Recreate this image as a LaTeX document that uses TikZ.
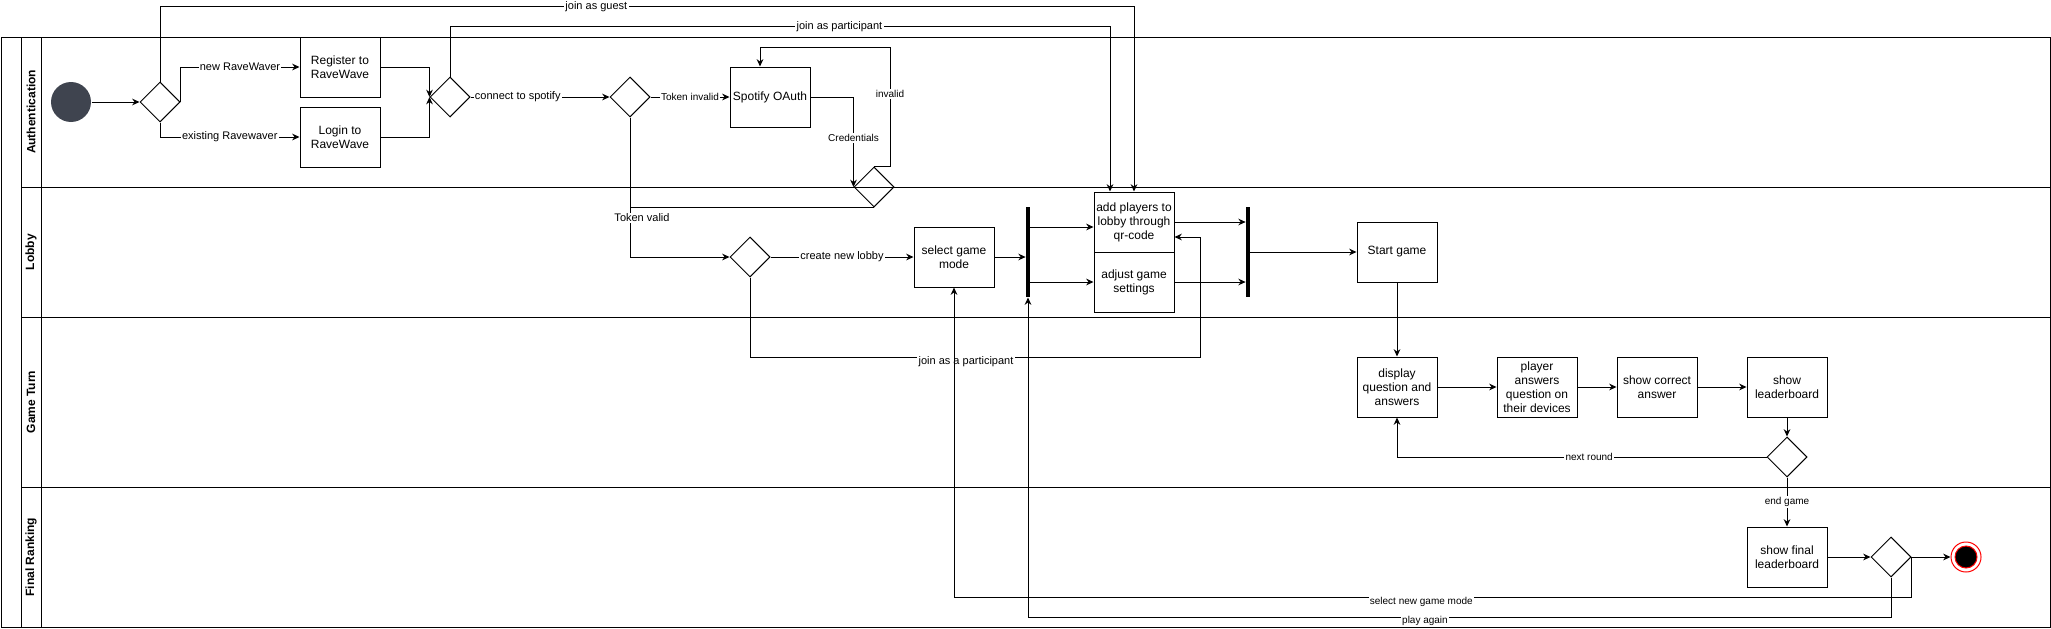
\documentclass[tikz,border=0pt]{standalone}
\usepackage{xcolor}
\usepackage{tikz}
\usepackage{fontspec}
\setmainfont{Liberation Sans}
\usetikzlibrary{shapes.geometric,arrows.meta}
\definecolor{startgray}{HTML}{3F444F}

\begin{document}
\begin{tikzpicture}[x=0.75pt, y=-0.75pt, line width=0.75pt,
    act/.style = {draw, minimum width=60pt, minimum height=45pt, inner sep=1pt,
        align=center, font=\fontsize{9}{10.5}\selectfont},
    decision/.style = {diamond, draw, minimum width=30pt, minimum height=30pt, inner sep=0pt},
    bar/.style = {fill=black, minimum width=2.8pt, minimum height=67.5pt, inner sep=0pt},
    flow/.style = {-{Stealth[length=5.5pt, width=5pt]}},
    lbl/.style = {fill=white, inner sep=1pt, font=\fontsize{8.25}{9}\selectfont},
    lblsm/.style = {fill=white, inner sep=1pt, font=\fontsize{7.5}{8.5}\selectfont},
    lanename/.style = {rotate=90, font=\bfseries\fontsize{9}{10}\selectfont}]
    \useasboundingbox (0,0) rectangle (2051,628);

    \draw (1,37) rectangle (2050,627);
    \draw (21,37) -- (21,627);
    \draw (41,37) -- (41,627);
    \draw (21,187) -- (2050,187);
    \draw (21,317) -- (2050,317);
    \draw (21,487) -- (2050,487);
    \node[lanename] (authlane) at (31,112) {Authentication};
    \node[lanename] (lobbylane) at (31,252) {Lobby};
    \node[lanename] (turnlane) at (31,402) {Game Turn};
    \node[lanename] (ranklane) at (31,557) {Final Ranking};

    \node[circle, fill=startgray, minimum size=30pt, inner sep=0pt] (start) at (71,102) {};
    \node[decision] (choice) at (160,102) {};
    \node[act] (register) at (340,67) {Register to\\RaveWave};
    \node[act] (login) at (340,137) {Login to\\RaveWave};
    \node[decision] (connect) at (450,97) {};
    \node[decision] (token) at (630,97) {};
    \node[act] (oauth) at (770,97) {Spotify OAuth};
    \node[decision] (credcheck) at (874,187) {};
    \node[decision] (lobbychoice) at (750,257) {};
    \node[act] (mode) at (954,257) {select game\\mode};
    \node[bar] (forka) at (1028,252) {};
    \node[act] (addplayers) at (1134,222) {add players to\\lobby through\\qr-code};
    \node[act] (settings) at (1134,282) {adjust game\\settings};
    \node[bar] (joinb) at (1248,252) {};
    \node[act] (startgame) at (1397,252) {Start game};
    \node[act] (display) at (1397,387) {display\\question and\\answers};
    \node[act] (answers) at (1537,387) {player\\answers\\question on\\their devices};
    \node[act] (correct) at (1657,387) {show correct\\answer};
    \node[act] (leaderboard) at (1787,387) {show\\leaderboard};
    \node[decision] (roundchoice) at (1787,457) {};
    \node[act] (finalboard) at (1787,557) {show final\\leaderboard};
    \node[decision] (againchoice) at (1891,557) {};
    \node[circle, draw=red, fill=white, minimum size=22.5pt, inner sep=0pt] (stop) at (1966,557) {};
    \draw[red, fill=black] (stop.center) circle (8.25pt);

    \draw[flow] (start) -- (choice);
    \draw[flow] (choice.east) |- (register.west) node[lbl, pos=0.75] {new RaveWaver};
    \draw[flow] (choice.south) |- (login.west) node[lbl, pos=0.75] {existing Ravewaver};
    \draw[flow] (register.east) -| (connect.west);
    \draw[flow] (login.east) -| (connect.west);
    \draw[flow] (choice.north) -- ++(0,-75) -| (addplayers.north)
        node[lbl, pos=0.224] {join as guest};
    \draw[flow] (connect.north) -- ++(0,-50) -| ([xshift=-18pt]addplayers.north)
        node[lbl, pos=0.295] {join as participant};
    \draw[flow] (connect) -- (token) node[lbl, pos=0.34] {connect to spotify};
    \draw[flow] (token) -- (oauth) node[lblsm, pos=0.5] {Token invalid};
    \draw[flow] (oauth.east) -| (credcheck.west) node[lblsm, pos=0.73] {Credentials};
    \draw[flow] (credcheck.north) -- ++(16,0) -- ++(0,-119) node[lblsm, pos=0.61] {invalid}
        -| ([xshift=-7.5pt]oauth.north);
    \draw (credcheck.south) -- (credcheck.south -| token.south);
    \draw[flow] (token.south) |- (lobbychoice.west) node[lbl, pos=0.36, xshift=9pt] {Token valid};
    \draw[flow] (lobbychoice) -- (mode) node[lbl, pos=0.5] {create new lobby};
    \draw[flow] (lobbychoice.south) -- ++(0,80) -- ++(450,0)
        node[lbl, pos=0.48, yshift=-3pt] {join as a participant}
        |- ([yshift=-11.25pt]addplayers.east);
    \draw[flow] (mode) -- (mode.east -| forka.west);
    \draw[flow] ([yshift=18.75pt]forka.east) -- ([yshift=-3.75pt]addplayers.west);
    \draw[flow] ([yshift=-22.5pt]forka.east) -- (settings.west);
    \draw[flow] (addplayers.east) -- (addplayers.east -| joinb.west);
    \draw[flow] (settings.east) -- (settings.east -| joinb.west);
    \draw[flow] (joinb) -- (startgame);
    \draw[flow] (startgame) -- (display);
    \draw[flow] (display) -- (answers);
    \draw[flow] (answers) -- (correct);
    \draw[flow] (correct) -- (leaderboard);
    \draw[flow] (leaderboard) -- (roundchoice);
    \draw[flow] (roundchoice.west) -| (display.south) node[lblsm, pos=0.24] {next round};
    \draw[flow] (roundchoice) -- (finalboard) node[lblsm, pos=0.5] {end game};
    \draw[flow] (finalboard) -- (againchoice);
    \draw[flow] (againchoice) -- (stop);
    \draw[flow] (againchoice.east) -- ++(0,40) -| (mode.south)
        node[lblsm, pos=0.256, yshift=-3.5pt] {select new game mode};
    \draw[flow] (againchoice.south) -- ++(0,40) -| (forka.south)
        node[lblsm, pos=0.27, yshift=-2.5pt] {play again};
\end{tikzpicture}
\end{document}
